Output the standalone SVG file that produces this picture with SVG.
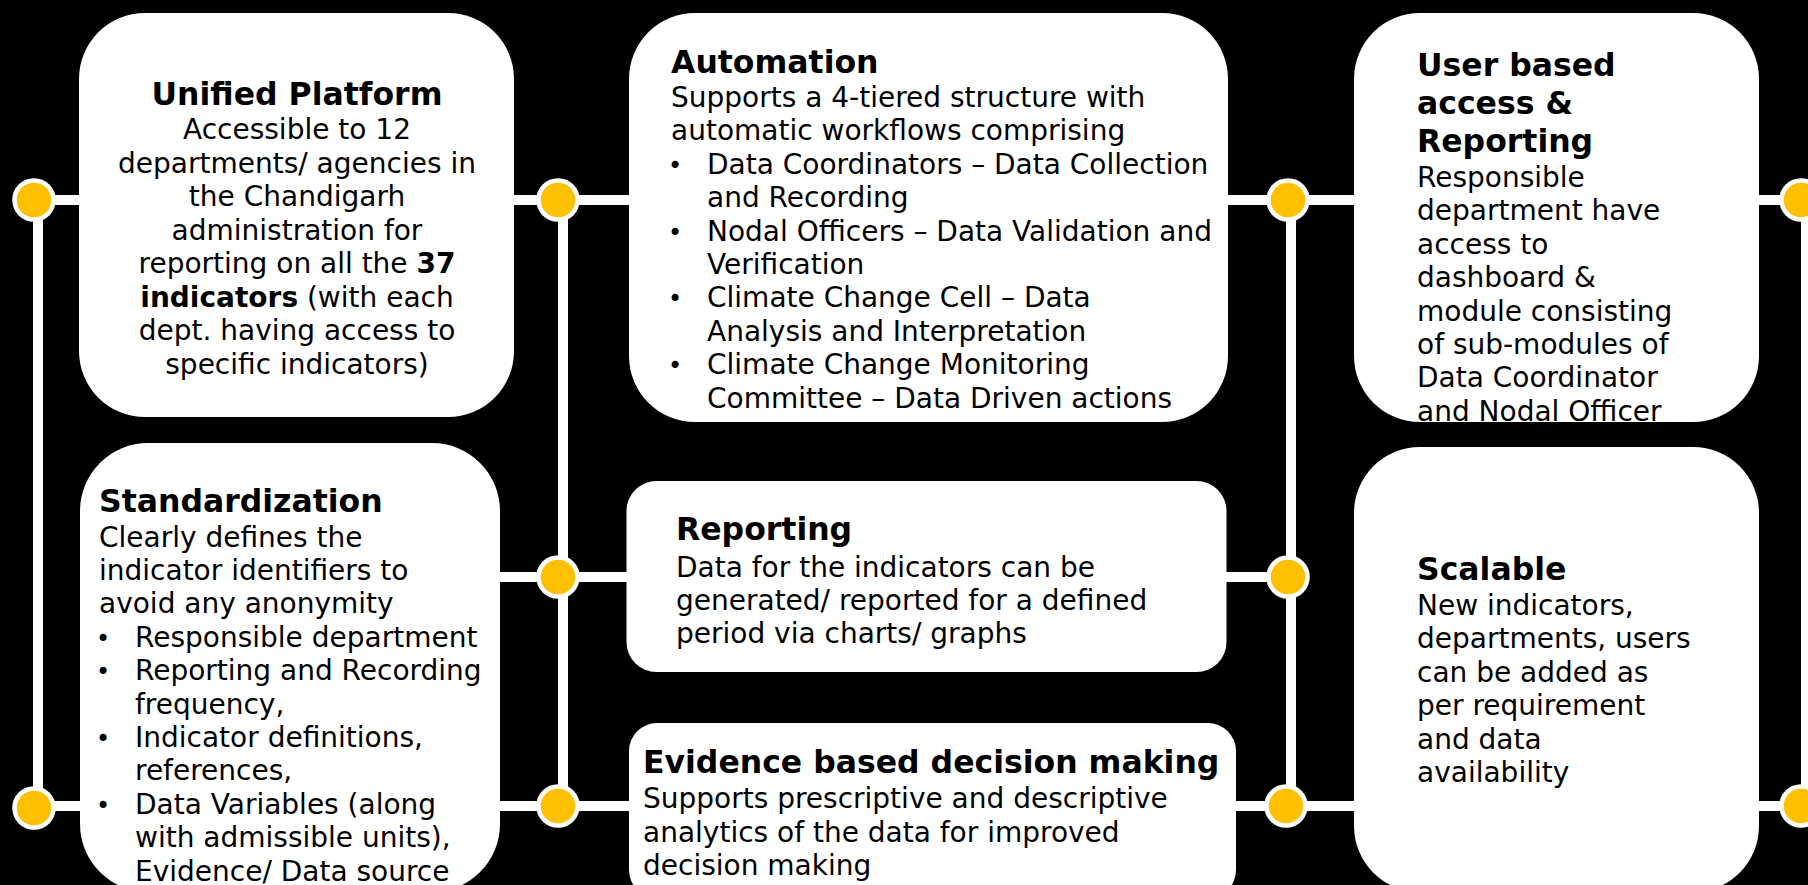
<svg xmlns="http://www.w3.org/2000/svg" width="1808" height="885" viewBox="0 0 1808 885">
<defs>
<style>
.box{fill:#ffffff;}
.ln{stroke:#ffffff;stroke-width:10;fill:none;}
.dot{fill:#FFC000;stroke:#ffffff;stroke-width:4.5;}
text{font-family:"DejaVu Sans","Verdana",sans-serif;fill:#000000;}
.t{font-size:31.5px;font-weight:bold;}
.b{font-size:28px;}
.bl{font-size:24px;}
.bd{font-weight:bold;}
.c{text-anchor:middle;}
</style>
<clipPath id="clipUser"><rect x="1354" y="13" width="405" height="409" rx="66"/></clipPath>
</defs>
<rect x="0" y="0" width="1808" height="885" fill="#000000"/>

<g id="connectors">
<line class="ln" x1="34" y1="200" x2="1808" y2="200"/>
<line class="ln" x1="480" y1="577" x2="1288" y2="577"/>
<line class="ln" x1="34" y1="806" x2="1808" y2="806"/>
<line class="ln" x1="38" y1="200" x2="38" y2="808"/>
<line class="ln" x1="563" y1="200" x2="563" y2="806"/>
<line class="ln" x1="1291" y1="200" x2="1291" y2="806"/>
<line class="ln" x1="1806" y1="200" x2="1806" y2="806"/>
<circle class="dot" cx="34" cy="200" r="19.5"/>
<circle class="dot" cx="558" cy="200" r="19.5"/>
<circle class="dot" cx="1288" cy="200" r="19.5"/>
<circle class="dot" cx="1801" cy="200" r="19.5"/>
<circle class="dot" cx="558" cy="577" r="19.5"/>
<circle class="dot" cx="1288" cy="577" r="19.5"/>
<circle class="dot" cx="34" cy="808" r="19.5"/>
<circle class="dot" cx="558" cy="806" r="19.5"/>
<circle class="dot" cx="1286" cy="806" r="19.5"/>
<circle class="dot" cx="1801" cy="806" r="19.5"/>
</g>

<g id="node-unified">
<rect class="box" x="79" y="13" width="435" height="404" rx="66"/>
<text class="t c" x="297" y="105">Unified Platform</text>
<text class="b c" x="297" y="139">Accessible to 12</text>
<text class="b c" x="297" y="172.5">departments/ agencies in</text>
<text class="b c" x="297" y="206">the Chandigarh</text>
<text class="b c" x="297" y="239.5">administration for</text>
<text class="b c" x="297" y="273">reporting on all the <tspan class="bd">37</tspan></text>
<text class="b c" x="297" y="306.5"><tspan class="bd">indicators</tspan> (with each</text>
<text class="b c" x="297" y="340">dept. having access to</text>
<text class="b c" x="297" y="373.5">specific indicators)</text>
</g>

<g id="node-automation">
<rect class="box" x="629" y="13" width="599" height="409" rx="66"/>
<text class="t" x="671" y="73">Automation</text>
<text class="b" x="671" y="107">Supports a 4-tiered structure with</text>
<text class="b" x="671" y="140.4">automatic workflows comprising</text>
<text class="bl" x="668" y="173.8">•</text>
<text class="b" x="707" y="173.8">Data Coordinators – Data Collection</text>
<text class="b" x="707" y="207.2">and Recording</text>
<text class="bl" x="668" y="240.6">•</text>
<text class="b" x="707" y="240.6">Nodal Officers – Data Validation and</text>
<text class="b" x="707" y="274">Verification</text>
<text class="bl" x="668" y="307.4">•</text>
<text class="b" x="707" y="307.4">Climate Change Cell – Data</text>
<text class="b" x="707" y="340.8">Analysis and Interpretation</text>
<text class="bl" x="668" y="374.2">•</text>
<text class="b" x="707" y="374.2">Climate Change Monitoring</text>
<text class="b" x="707" y="407.6">Committee – Data Driven actions</text>
</g>

<g id="node-user-access">
<rect class="box" x="1354" y="13" width="405" height="409" rx="66"/>
<g clip-path="url(#clipUser)">
<text class="t" x="1417" y="76">User based</text>
<text class="t" x="1417" y="114">access &amp;</text>
<text class="t" x="1417" y="152">Reporting</text>
<text class="b" x="1417" y="187">Responsible</text>
<text class="b" x="1417" y="220.4">department have</text>
<text class="b" x="1417" y="253.8">access to</text>
<text class="b" x="1417" y="287.2">dashboard &amp;</text>
<text class="b" x="1417" y="320.6">module consisting</text>
<text class="b" x="1417" y="354">of sub-modules of</text>
<text class="b" x="1417" y="387.4">Data Coordinator</text>
<text class="b" x="1417" y="420.8">and Nodal Officer</text>
</g>
</g>

<g id="node-standardization">
<rect class="box" x="80" y="443" width="420" height="449" rx="68"/>
<text class="t" x="99" y="511.5">Standardization</text>
<text class="b" x="99" y="546.5">Clearly defines the</text>
<text class="b" x="99" y="580">indicator identifiers to</text>
<text class="b" x="99" y="613.4">avoid any anonymity</text>
<text class="bl" x="96" y="646.8">•</text>
<text class="b" x="135" y="646.8">Responsible department</text>
<text class="bl" x="96" y="680.2">•</text>
<text class="b" x="135" y="680.2">Reporting and Recording</text>
<text class="b" x="135" y="713.6">frequency,</text>
<text class="bl" x="96" y="747">•</text>
<text class="b" x="135" y="747">Indicator definitions,</text>
<text class="b" x="135" y="780.4">references,</text>
<text class="bl" x="96" y="813.8">•</text>
<text class="b" x="135" y="813.8">Data Variables (along</text>
<text class="b" x="135" y="847.2">with admissible units),</text>
<text class="b" x="135" y="880.6">Evidence/ Data source</text>
</g>

<g id="node-reporting">
<rect class="box" x="626.5" y="481" width="600" height="191" rx="30"/>
<text class="t" x="676" y="540">Reporting</text>
<text class="b" x="676" y="576.7">Data for the indicators can be</text>
<text class="b" x="676" y="610">generated/ reported for a defined</text>
<text class="b" x="676" y="643.4">period via charts/ graphs</text>
</g>

<g id="node-evidence">
<rect class="box" x="629" y="723" width="607" height="175" rx="28"/>
<text class="t" x="643" y="773.3">Evidence based decision making</text>
<text class="b" x="643" y="808">Supports prescriptive and descriptive</text>
<text class="b" x="643" y="841.5">analytics of the data for improved</text>
<text class="b" x="643" y="875">decision making</text>
</g>

<g id="node-scalable">
<rect class="box" x="1354" y="447" width="405" height="445" rx="66"/>
<text class="t" x="1417" y="580">Scalable</text>
<text class="b" x="1417" y="615">New indicators,</text>
<text class="b" x="1417" y="648.4">departments, users</text>
<text class="b" x="1417" y="681.8">can be added as</text>
<text class="b" x="1417" y="715.2">per requirement</text>
<text class="b" x="1417" y="748.6">and data</text>
<text class="b" x="1417" y="782">availability</text>
</g>
</svg>
